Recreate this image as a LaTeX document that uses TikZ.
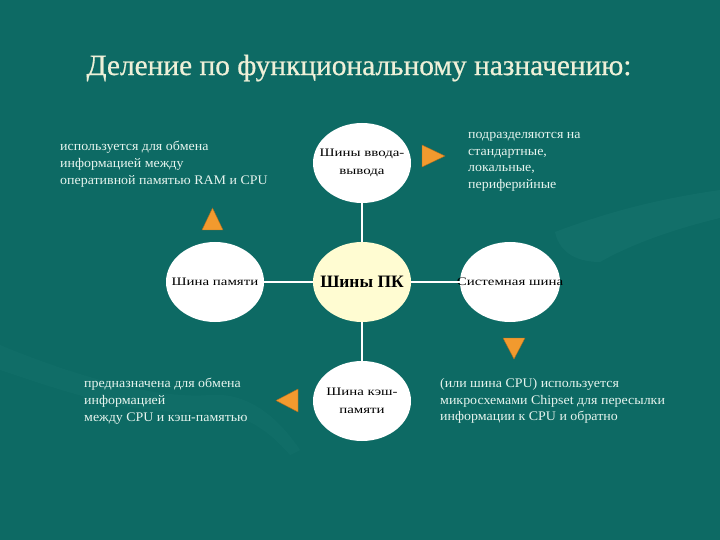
\documentclass[tikz,border=0pt]{standalone}
\usepackage{fontspec}
\setmainfont{Liberation Serif}
\newfontfamily\wideserif[FakeStretch=1.3]{Liberation Serif}
\newfontfamily\descserif[FakeStretch=1.06]{Liberation Serif}
\newfontfamily\titleserif[FakeBold=0.6]{Liberation Serif}
\usetikzlibrary{shapes.geometric}
\definecolor{bg}{HTML}{0D6A64}
\definecolor{swoosh}{HTML}{3A9590}
\definecolor{txt}{HTML}{E6F4EE}
\definecolor{titlec}{HTML}{EEF0D8}
\definecolor{ctrfill}{HTML}{FFFCD2}
\definecolor{tri}{HTML}{F29A2E}
\tikzset{
  busnode/.style={ellipse, fill=white, minimum width=98bp, minimum height=80bp, inner xsep=-30bp, inner ysep=0pt, align=center, font=\wideserif\fontsize{11.5}{17.5}\selectfont, text=black},
  ctrnode/.style={busnode, fill=ctrfill, font=\fontsize{17.5}{19}\selectfont\bfseries},
  link/.style={draw=white, line width=2bp},
  desc/.style={anchor=north west, align=left, text=txt, inner sep=0pt, font=\descserif\fontsize{13.2}{16.8}\selectfont},
  marker/.style={fill=tri, draw=tri!70!black, line width=0.4bp}
}
\begin{document}
\begin{tikzpicture}[x=1bp,y=-1bp]
\fill[bg] (0,0) rectangle (720,540);
\useasboundingbox (0,0) rectangle (720,540);
% faint background swooshes
\fill[swoosh, opacity=0.12] (555,232) .. controls (600,215) and (650,200) .. (720,190) -- (720,218) .. controls (670,230) and (630,245) .. (600,262) .. controls (580,262) and (560,255) .. (555,232) -- cycle;
\fill[swoosh, opacity=0.08] (0,345) .. controls (60,370) and (150,400) .. (210,395) .. controls (250,392) and (280,420) .. (300,450) -- (290,455) .. controls (260,420) and (230,410) .. (200,412) .. controls (130,415) and (60,390) .. (0,370) -- cycle;
% title
\node[text=titlec, font=\titleserif\fontsize{29.5}{32}\selectfont] (title) at (359,68) {Деление по функциональному назначению:};
% nodes
\node[ctrnode] (c) at (362,282) {Шины ПК};
\node[busnode] (t) at (362,163) {Шины ввода-\\вывода};
\node[busnode] (l) at (215,282) {Шина памяти};
\node[busnode, minimum width=100bp] (r) at (510,282) {Системная шина};
\node[busnode] (b) at (362,401) {Шина кэш-\\памяти};
% connectors
\draw[link] (c) -- (t);
\draw[link] (c) -- (l);
\draw[link] (c) -- (r);
\draw[link] (c) -- (b);
% orange markers
\fill[marker] (202,230) -- (223,230) -- (212.5,208) -- cycle;
\fill[marker] (422,145) -- (445,156) -- (422,167) -- cycle;
\fill[marker] (503,338) -- (525,338) -- (514,359) -- cycle;
\fill[marker] (298,389) -- (276,400.5) -- (298,412) -- cycle;
% descriptions
\node[desc] (d1) at (60,141) {используется для обмена\\информацией между\\оперативной памятью RAM и CPU};
\node[desc] (d2) at (468,132) {подразделяются на\\стандартные,\\локальные,\\периферийные};
\node[desc] (d3) at (84,378) {предназначена для обмена\\информацией\\между CPU и кэш-памятью};
\node[desc] (d4) at (440,378) {(или шина CPU) используется\\микросхемами Chipset для пересылки\\информации к CPU и обратно};
\end{tikzpicture}
\end{document}
